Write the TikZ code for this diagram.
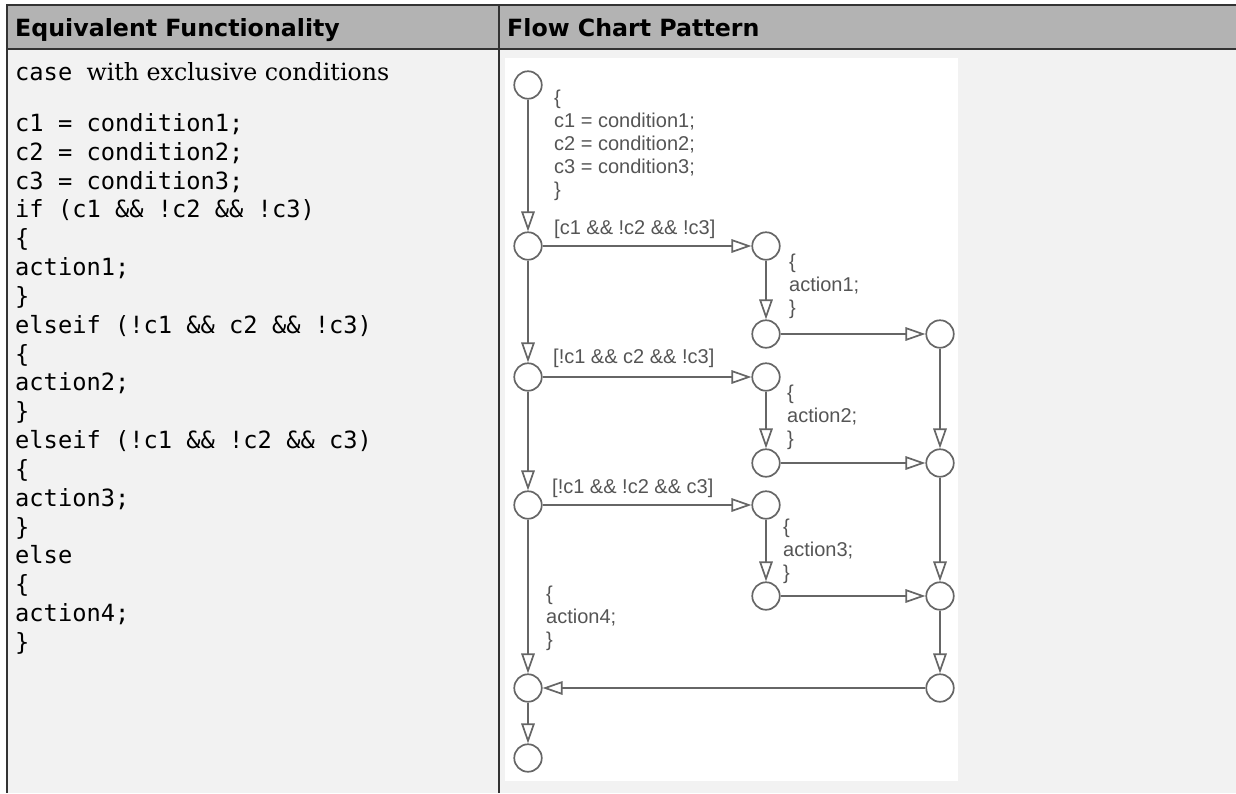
\documentclass[tikz,border=0pt]{standalone}
\usepackage{fontspec}
\setmainfont{DejaVu Serif}
\setsansfont{DejaVu Sans}
\setmonofont{DejaVu Sans Mono}
\newfontfamily\chartfont{Liberation Sans}
\usetikzlibrary{arrows.meta}
\definecolor{hdr}{HTML}{B3B3B3}
\definecolor{bodybg}{HTML}{F2F2F2}
\definecolor{rulecol}{HTML}{333333}
\definecolor{chartline}{HTML}{666666}
\definecolor{charttext}{HTML}{555555}
\begin{document}
\begin{tikzpicture}[x=1pt,y=-1pt,
  st/.style={circle,draw=chartline,line width=1.7pt,fill=white,minimum size=27.5pt,inner sep=0pt},
  tr/.style={draw=chartline,line width=1.7pt,-{Triangle[open,length=20pt,width=13.5pt,fill=white]}},
  lbl/.style={font=\chartfont\fontsize{20}{23}\selectfont,text=charttext,inner sep=0pt,anchor=base west,align=left},
  code/.style={font=\ttfamily\fontsize{23.7}{28.83}\selectfont,inner sep=0pt,anchor=base west,align=left},
  hd/.style={font=\sffamily\bfseries\fontsize{23.7}{28}\selectfont,inner sep=0pt,anchor=base west},
  border/.style={draw=rulecol,line width=1.5pt}]
\useasboundingbox (0,0) rectangle (1236,793);
\fill[bodybg] (7,49) rectangle (1236,793);
\fill[hdr] (7,5) rectangle (1236,49);
\draw[border] (1236,5) -- (7,5) -- (7,793);
\draw[border] (7,49) -- (1236,49);
\draw[border] (499,5) -- (499,793);
\fill[white] (505,58) rectangle (958,781);
% headers
\node[hd] (h1) at (15,36) {Equivalent Functionality};
\node[hd] (h2) at (507,36) {Flow Chart Pattern};
% left column (base anchor = baseline of the last line)
\node[code] (intro) at (15,80) {case {\rmfamily with exclusive conditions}};
\node[code] (prog) at (15,650.4) {c1 = condition1;\\
c2 = condition2;\\
c3 = condition3;\\
if (c1 \&\& !c2 \&\& !c3)\\
\{\\
action1;\\
\}\\
elseif (!c1 \&\& c2 \&\& !c3)\\
\{\\
action2;\\
\}\\
elseif (!c1 \&\& !c2 \&\& c3)\\
\{\\
action3;\\
\}\\
else\\
\{\\
action4;\\
\}};
% flow chart junctions
\node[st] (s0) at (528,85) {};
\node[st] (L1) at (528,246) {};
\node[st] (M1) at (766,246) {};
\node[st] (M1b) at (766,334) {};
\node[st] (R1) at (940,334) {};
\node[st] (L2) at (528,377) {};
\node[st] (M2) at (766,377) {};
\node[st] (M2b) at (766,463) {};
\node[st] (R2) at (940,463) {};
\node[st] (L3) at (528,505) {};
\node[st] (M3) at (766,505) {};
\node[st] (M3b) at (766,596) {};
\node[st] (R3) at (940,596) {};
\node[st] (L4) at (528,688) {};
\node[st] (R4) at (940,688) {};
\node[st] (E) at (528,758) {};
% transitions
\draw[tr] (s0) -- (L1);
\draw[tr] (L1) -- (M1);
\draw[tr] (M1) -- (M1b);
\draw[tr] (M1b) -- (R1);
\draw[tr] (L1) -- (L2);
\draw[tr] (L2) -- (M2);
\draw[tr] (M2) -- (M2b);
\draw[tr] (M2b) -- (R2);
\draw[tr] (R1) -- (R2);
\draw[tr] (L2) -- (L3);
\draw[tr] (L3) -- (M3);
\draw[tr] (M3) -- (M3b);
\draw[tr] (M3b) -- (R3);
\draw[tr] (R2) -- (R3);
\draw[tr] (R3) -- (R4);
\draw[tr] (R4) -- (L4);
\draw[tr] (L3) -- (L4);
\draw[tr] (L4) -- (E);
% labels (multi-line: base anchor = last line)
\node[lbl] (t0) at (554,196) {\{\\c1 = condition1;\\c2 = condition2;\\c3 = condition3;\\\}};
\node[lbl] (g1) at (554,234) {[c1 \&\& !c2 \&\& !c3]};
\node[lbl] (a1) at (789,314) {\{\\action1;\\\}};
\node[lbl] (g2) at (553,363) {[!c1 \&\& c2 \&\& !c3]};
\node[lbl] (a2) at (787,445) {\{\\action2;\\\}};
\node[lbl] (g3) at (552,493) {[!c1 \&\& !c2 \&\& c3]};
\node[lbl] (a3) at (783,579) {\{\\action3;\\\}};
\node[lbl] (a4) at (546,646) {\{\\action4;\\\}};
\end{tikzpicture}
\end{document}
